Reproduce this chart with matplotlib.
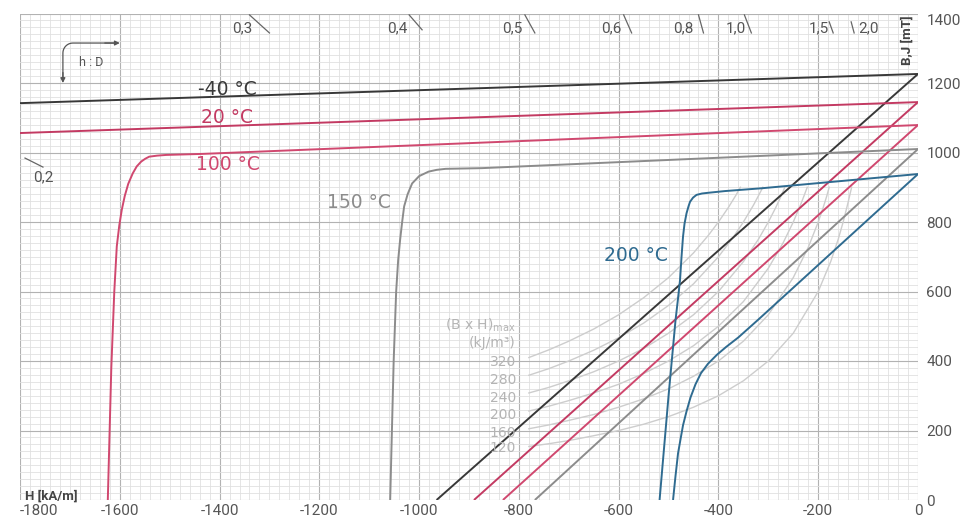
import numpy as np
import matplotlib
matplotlib.use("Agg")
import matplotlib.pyplot as plt
from matplotlib import font_manager

# ---------------- data ----------------
# intrinsic (J) curves, H in kA/m, J in mT
H_J_m40 = [-1800, 0]
J_m40 = [1142, 1226]
H_J_20 = [-1800, 0]
J_20 = [1056, 1145]
H_J_100 = [-1624, -1617, -1611, -1606, -1601, -1596, -1590, -1583, -1574, -1566,
           -1557, -1549, -1541, -1525, -1507, -1434, 0]
J_100 = [0, 380, 600, 730, 790, 835, 875, 910, 940, 960,
         974, 982, 988, 991, 993, 996, 1079]
H_J_150 = [-1058, -1051, -1046, -1042, -1038, -1034, -1030, -1023, -1014, -1000,
           -981, -965, -947, -874, 0]
J_150 = [0, 400, 600, 690, 750, 800, 845, 880, 911, 932,
         945, 950, 953, 955, 1010]
H_J_200 = [-518, -500, -486, -481, -477, -474, -471, -468, -464, -460, -457, -451,
           -444, -433, -421, -387, -314, 0]
J_200 = [0, 300, 518, 580, 633, 700, 758, 795, 825, 845, 858, 870,
         878, 882, 884, 889, 897, 938]

# normal (B) curves
H_B_m40 = [0, -965]
B_m40 = [1226, 0]
H_B_20 = [0, -890]
B_20 = [1145, 0]
H_B_100 = [0, -832]
B_100 = [1079, 0]
H_B_150 = [0, -768]
B_150 = [1010, 0]
H_B_200 = [0, -321, -360, -385, -403, -421, -435, -446, -456, -464, -471, -476,
           -481, -486, -491]
B_200 = [938, 518, 468, 440, 418, 392, 365, 333, 295, 255, 215, 175,
         134, 70, 0]

temp_labels = ["-40 °C", "20 °C", "100 °C", "150 °C", "200 °C"]

# (B x H)max iso-energy curves, kJ/m³
bh_values = [320, 280, 240, 200, 160, 120]
bh_H = [
    [-780, -740, -700, -650, -600, -550, -500, -450, -420, -400, -380, -365, -356],
    [-780, -740, -700, -650, -600, -550, -500, -450, -400, -370, -350, -330, -320, -311],
    [-780, -740, -700, -650, -600, -550, -500, -450, -400, -350, -320, -300, -285, -275, -267],
    [-780, -740, -700, -650, -600, -550, -500, -450, -400, -350, -300, -270, -250, -235, -228, -222],
    [-780, -740, -700, -650, -600, -550, -500, -450, -400, -350, -300, -250, -220, -200, -190, -183, -178],
    [-780, -740, -700, -650, -600, -550, -500, -450, -400, -350, -300, -250, -200, -175, -160, -150, -140, -136, -133],
]
bh_B = [
    [410, 432, 457, 492, 533, 582, 640, 711, 762, 800, 842, 877, 900],
    [359, 378, 400, 431, 467, 509, 560, 622, 700, 757, 800, 848, 875, 900],
    [308, 324, 343, 369, 400, 436, 480, 533, 600, 686, 750, 800, 842, 873, 900],
    [256, 270, 286, 308, 333, 364, 400, 444, 500, 571, 667, 741, 800, 851, 877, 900],
    [205, 216, 229, 246, 267, 291, 320, 356, 400, 457, 533, 640, 727, 800, 842, 874, 900],
    [154, 162, 171, 185, 200, 218, 240, 267, 300, 343, 400, 480, 600, 686, 750, 800, 857, 882, 900],
]

permeance_labels = ["0,2", "0,3", "0,4", "0,5", "0,6", "0,8", "1,0", "1,5", "2,0"]

x_ticks = list(range(-1800, 1, 200))
y_ticks = list(range(0, 1401, 200))

# ---------------- styling ----------------
names = {f.name for f in font_manager.fontManager.ttflist}
narrow = "Liberation Sans Narrow" if "Liberation Sans Narrow" in names else "Roboto"
plt.rcParams["mathtext.default"] = "regular"
plt.rcParams["axes.unicode_minus"] = False

C_M40 = "#383838"
C_20 = "#c33a62"
C_100 = "#d0486f"
C_150 = "#8c8c8c"
C_200 = "#2f6b90"
C_BH = "#cdcdcd"
TXT = "#555555"

fig = plt.figure(figsize=(9.6, 5.25), dpi=100)
ax = fig.add_axes([20 / 960, 25 / 525, 898 / 960, 486.5 / 525])
ax.set_xlim(-1800, 0)
ax.set_ylim(0, 1400)

ax.set_xticks(x_ticks)
ax.set_xticks(np.arange(-1800, 1, 20), minor=True)
ax.set_yticks(y_ticks)
ax.set_yticks(np.arange(0, 1401, 20), minor=True)
ax.grid(which="major", color="#b2b2b2", lw=0.8)
ax.grid(which="minor", color="#e0e0e0", lw=0.6)
ax.set_axisbelow(True)
for s in ax.spines.values():
    s.set_visible(False)
ax.yaxis.tick_right()
ax.tick_params(which="both", length=0)
ax.tick_params(axis="x", pad=3, labelsize=11, labelcolor=TXT)
ax.tick_params(axis="y", pad=6, labelsize=11, labelcolor=TXT)
for lab in ax.get_xticklabels() + ax.get_yticklabels():
    lab.set_fontfamily(narrow)
xl = ax.get_xticklabels()
xl[0].set_horizontalalignment("left")
yl = ax.get_yticklabels()
yl[-1].set_verticalalignment("top")

# iso-energy curves
for Hs, Bs in zip(bh_H, bh_B):
    ax.plot(Hs, Bs, color=C_BH, lw=1.0, zorder=2)

# main curves
lw = 1.4
curves = [
    (H_J_m40, J_m40, H_B_m40, B_m40, C_M40),
    (H_J_20, J_20, H_B_20, B_20, C_20),
    (H_J_100, J_100, H_B_100, B_100, C_100),
    (H_J_150, J_150, H_B_150, B_150, C_150),
    (H_J_200, J_200, H_B_200, B_200, C_200),
]
for hj, j, hb, b, c in curves:
    ax.plot(hj, j, color=c, lw=lw, zorder=3, solid_capstyle="butt",
            solid_joinstyle="round")
    ax.plot(hb, b, color=c, lw=lw, zorder=3, solid_capstyle="butt",
            solid_joinstyle="round")

# temperature labels
temp_pos = [(-1384, 1180), (-1386, 1102), (-1384, 965), (-1120, 855), (-566, 705)]
temp_col = [C_M40, C_20, C_100, C_150, C_200]
for t, (x, y), c in zip(temp_labels, temp_pos, temp_col):
    ax.text(x, y, t, color=c, fontsize=13.5, ha="center", va="center",
            family="DejaVu Sans", zorder=4)

# (B x H)max labels
bh_text_y = [397, 345, 294, 245, 193, 150]
for v, y in zip(bh_values, bh_text_y):
    ax.text(-806, y, str(v), color="#b4b4b4", fontsize=10, ha="right",
            va="center", family="DejaVu Sans", zorder=4)
ax.text(-806, 504, "(B x H)$_{max}$", color="#b4b4b4", fontsize=10, ha="right",
        va="center", family="DejaVu Sans", zorder=4)
ax.text(-806, 452, "(kJ/m³)", color="#b4b4b4", fontsize=10, ha="right",
        va="center", family="DejaVu Sans", zorder=4)

# permeance markers
perm_text = [(-1754, 929), (-1354, 1358), (-1044, 1358), (-814, 1358), (-614, 1358),
             (-470, 1358), (-366, 1358), (-198, 1358), (-100, 1358)]
perm_ticks = [((-1790, 984), (-1754, 958)), ((-1340, 1396), (-1300, 1344)),
              ((-1020, 1396), (-994, 1353)), ((-788, 1396), (-768, 1344)),
              ((-590, 1396), (-574, 1344)), ((-440, 1396), (-430, 1344)),
              ((-348, 1396), (-334, 1344)), ((-178, 1376), (-170, 1344)),
              ((-134, 1376), (-128, 1344))]
for t, (x, y), (p0, p1) in zip(permeance_labels, perm_text, perm_ticks):
    ax.text(x, y, t, color=TXT, fontsize=11, ha="center", va="center",
            family=narrow, zorder=4)
    ax.plot([p0[0], p1[0]], [p0[1], p1[1]], color="#666666", lw=0.9, zorder=4)

# h : D orientation sketch
theta = np.linspace(np.pi, np.pi / 2, 12)
arc_x = -1694 + 20 * np.cos(theta)
arc_y = 1286 + 29 * np.sin(theta)
px = np.concatenate([[-1714], arc_x, [-1612]])
py = np.concatenate([[1215], arc_y, [1315]])
ax.plot(px, py, color="#555555", lw=0.9, zorder=4)
ax.annotate("", xy=(-1714, 1200), xytext=(-1714, 1230),
            arrowprops=dict(arrowstyle="-|>", color="#555555", lw=0.9,
                            mutation_scale=7, shrinkA=0, shrinkB=0))
ax.annotate("", xy=(-1600, 1315), xytext=(-1630, 1315),
            arrowprops=dict(arrowstyle="-|>", color="#555555", lw=0.9,
                            mutation_scale=7, shrinkA=0, shrinkB=0))
ax.text(-1658, 1258, "h : D", color=TXT, fontsize=9, ha="center", va="center",
        family=narrow, zorder=4)

# axis names
ax.text(-1790, 12, "H [kA/m]", color="#444444", fontsize=9.5, fontweight="bold",
        ha="left", va="center", family=narrow, zorder=4)
ax.text(-22, 1322, "B,J [mT]", color="#444444", fontsize=9.5, fontweight="bold",
        rotation=90, ha="center", va="center", family=narrow, zorder=4)

fig.savefig("out.png", dpi=100)
